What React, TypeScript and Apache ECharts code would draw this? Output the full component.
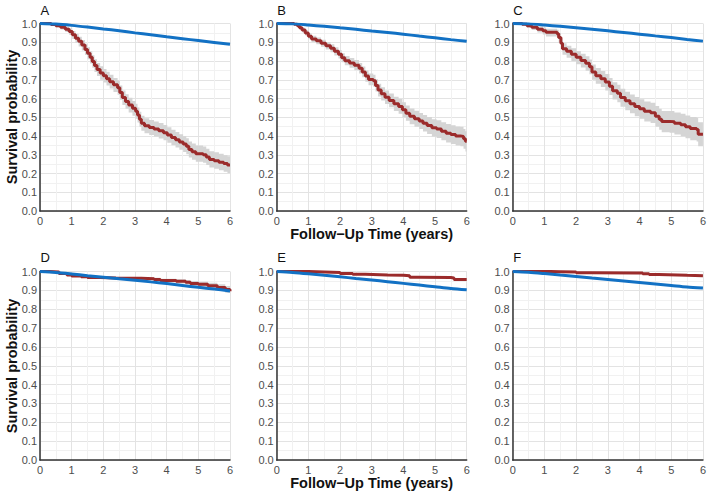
import React, { useEffect, useRef } from "react";
import * as echarts from "echarts";

// ---------- Observed (Kaplan–Meier) curves, red, with 95% CI ----------
const T_A = [0, 0.35, 0.5, 0.65, 0.8, 0.92, 1.02, 1.12, 1.22, 1.32, 1.42, 1.5, 1.58, 1.65, 1.72, 1.8, 1.9, 2.0, 2.1, 2.2, 2.32, 2.45, 2.52, 2.6, 2.7, 2.8, 2.92, 3.02, 3.08, 3.14, 3.2, 3.3, 3.45, 3.6, 3.75, 3.9, 4.02, 4.15, 4.28, 4.4, 4.52, 4.62, 4.7, 4.8, 4.92, 5.15, 5.25, 5.35, 5.5, 5.65, 5.8, 5.92, 6];
const S_A = [1, 0.995, 0.988, 0.98, 0.97, 0.958, 0.94, 0.922, 0.905, 0.885, 0.862, 0.842, 0.82, 0.798, 0.776, 0.755, 0.736, 0.722, 0.706, 0.69, 0.673, 0.658, 0.632, 0.605, 0.584, 0.565, 0.548, 0.532, 0.512, 0.49, 0.468, 0.455, 0.445, 0.437, 0.428, 0.418, 0.405, 0.392, 0.38, 0.368, 0.357, 0.345, 0.328, 0.316, 0.305, 0.3, 0.288, 0.275, 0.268, 0.26, 0.253, 0.246, 0.246];
const LO_A = [1, 0.99, 0.98, 0.968, 0.955, 0.94, 0.918, 0.898, 0.878, 0.856, 0.832, 0.81, 0.787, 0.764, 0.742, 0.72, 0.7, 0.686, 0.67, 0.653, 0.635, 0.62, 0.594, 0.566, 0.545, 0.526, 0.508, 0.492, 0.472, 0.45, 0.428, 0.415, 0.405, 0.397, 0.387, 0.377, 0.364, 0.351, 0.339, 0.327, 0.315, 0.303, 0.286, 0.274, 0.263, 0.257, 0.245, 0.232, 0.225, 0.217, 0.21, 0.203, 0.203];
const HI_A = [1, 1, 0.996, 0.99, 0.984, 0.975, 0.96, 0.945, 0.93, 0.912, 0.892, 0.873, 0.852, 0.831, 0.81, 0.79, 0.772, 0.758, 0.743, 0.727, 0.71, 0.696, 0.67, 0.643, 0.623, 0.604, 0.587, 0.572, 0.552, 0.53, 0.508, 0.495, 0.486, 0.478, 0.469, 0.459, 0.447, 0.434, 0.422, 0.41, 0.399, 0.388, 0.371, 0.36, 0.349, 0.344, 0.332, 0.319, 0.313, 0.305, 0.298, 0.292, 0.292];

const T_B = [0, 0.55, 0.65, 0.72, 0.8, 0.9, 1.0, 1.1, 1.25, 1.4, 1.55, 1.7, 1.82, 1.95, 2.05, 2.15, 2.3, 2.45, 2.6, 2.7, 2.8, 2.9, 3.05, 3.12, 3.2, 3.3, 3.42, 3.55, 3.7, 3.85, 3.97, 4.08, 4.2, 4.35, 4.5, 4.62, 4.75, 4.9, 5.05, 5.2, 5.35, 5.5, 5.65, 5.8, 5.9, 5.96, 6];
const S_B = [1, 0.996, 0.988, 0.978, 0.966, 0.95, 0.932, 0.918, 0.908, 0.895, 0.882, 0.868, 0.852, 0.836, 0.818, 0.802, 0.79, 0.778, 0.762, 0.742, 0.72, 0.702, 0.695, 0.67, 0.645, 0.625, 0.607, 0.59, 0.572, 0.558, 0.54, 0.522, 0.505, 0.492, 0.48, 0.468, 0.456, 0.444, 0.437, 0.425, 0.415, 0.408, 0.4, 0.398, 0.385, 0.372, 0.372];
const LO_B = [1, 0.99, 0.98, 0.968, 0.954, 0.936, 0.916, 0.901, 0.89, 0.876, 0.862, 0.847, 0.83, 0.813, 0.794, 0.777, 0.764, 0.751, 0.734, 0.713, 0.69, 0.671, 0.663, 0.637, 0.611, 0.59, 0.571, 0.553, 0.534, 0.519, 0.5, 0.481, 0.463, 0.45, 0.437, 0.424, 0.411, 0.398, 0.39, 0.377, 0.366, 0.358, 0.349, 0.346, 0.332, 0.318, 0.318];
const HI_B = [1, 1, 0.996, 0.988, 0.978, 0.964, 0.948, 0.935, 0.926, 0.914, 0.902, 0.889, 0.874, 0.859, 0.842, 0.827, 0.816, 0.805, 0.79, 0.771, 0.75, 0.733, 0.727, 0.703, 0.679, 0.66, 0.643, 0.627, 0.61, 0.597, 0.58, 0.563, 0.547, 0.535, 0.523, 0.512, 0.501, 0.49, 0.484, 0.473, 0.464, 0.458, 0.451, 0.45, 0.438, 0.426, 0.426];

const T_C = [0, 0.3, 0.45, 0.6, 0.78, 0.95, 1.05, 1.4, 1.45, 1.52, 1.57, 1.7, 1.85, 2.0, 2.15, 2.3, 2.42, 2.5, 2.62, 2.78, 2.92, 3.05, 3.15, 3.3, 3.4, 3.55, 3.7, 3.85, 4.0, 4.15, 4.35, 4.5, 4.62, 4.7, 4.95, 5.1, 5.3, 5.45, 5.6, 5.8, 5.85, 6];
const S_C = [1, 0.996, 0.988, 0.98, 0.97, 0.962, 0.953, 0.946, 0.925, 0.895, 0.866, 0.852, 0.836, 0.82, 0.803, 0.788, 0.77, 0.742, 0.722, 0.705, 0.688, 0.665, 0.642, 0.628, 0.605, 0.588, 0.572, 0.558, 0.545, 0.532, 0.524, 0.506, 0.49, 0.478, 0.476, 0.468, 0.46, 0.45, 0.44, 0.435, 0.41, 0.41];
const LO_C = [1, 0.99, 0.978, 0.966, 0.952, 0.942, 0.931, 0.922, 0.898, 0.865, 0.834, 0.818, 0.8, 0.783, 0.765, 0.748, 0.729, 0.7, 0.679, 0.661, 0.643, 0.619, 0.595, 0.58, 0.556, 0.538, 0.521, 0.506, 0.492, 0.478, 0.469, 0.45, 0.433, 0.42, 0.417, 0.408, 0.399, 0.388, 0.377, 0.371, 0.345, 0.345];
const HI_C = [1, 1, 0.997, 0.992, 0.985, 0.979, 0.972, 0.967, 0.949, 0.922, 0.895, 0.882, 0.868, 0.854, 0.839, 0.825, 0.808, 0.782, 0.763, 0.747, 0.731, 0.709, 0.687, 0.674, 0.652, 0.636, 0.621, 0.608, 0.596, 0.584, 0.577, 0.56, 0.545, 0.534, 0.533, 0.526, 0.519, 0.51, 0.501, 0.497, 0.473, 0.473];

const T_D = [0, 0.3, 0.6, 0.85, 1.0, 1.3, 1.5, 1.9, 2.4, 3.2, 3.6, 3.8, 4.3, 4.6, 4.75, 5.0, 5.3, 5.6, 5.85, 6];
const S_D = [1, 0.997, 0.99, 0.982, 0.976, 0.972, 0.968, 0.966, 0.964, 0.962, 0.958, 0.952, 0.948, 0.943, 0.937, 0.932, 0.925, 0.915, 0.905, 0.895];
const LO_D = [1, 0.995, 0.987, 0.978, 0.971, 0.966, 0.962, 0.96, 0.957, 0.954, 0.949, 0.942, 0.937, 0.931, 0.924, 0.918, 0.91, 0.898, 0.887, 0.876];
const HI_D = [1, 0.999, 0.993, 0.986, 0.981, 0.978, 0.974, 0.972, 0.971, 0.97, 0.967, 0.962, 0.959, 0.955, 0.95, 0.946, 0.94, 0.932, 0.923, 0.914];

const T_E = [0, 1.0, 1.5, 2.0, 2.4, 2.8, 3.5, 4.0, 4.2, 4.5, 5.5, 5.6, 6];
const S_E = [1, 0.998, 0.995, 0.99, 0.985, 0.982, 0.98, 0.978, 0.97, 0.968, 0.966, 0.958, 0.958];

const T_F = [0, 1.2, 1.5, 2.0, 2.5, 3.9, 4.1, 4.3, 4.6, 5.2, 5.5, 6];
const S_F = [1, 0.999, 0.997, 0.993, 0.992, 0.992, 0.988, 0.984, 0.982, 0.98, 0.978, 0.977];

// ---------- Expected (population) survival, blue ----------
const EXP_T = [0, 0.5, 1, 1.5, 2, 2.5, 3, 3.5, 4, 4.5, 5, 5.5, 6];
const EXP_A = [1, 0.997, 0.99, 0.981, 0.971, 0.961, 0.95, 0.94, 0.929, 0.919, 0.909, 0.899, 0.889];
const EXP_B = [1, 0.998, 0.992, 0.985, 0.977, 0.969, 0.96, 0.952, 0.943, 0.933, 0.924, 0.914, 0.905];
const EXP_C = [1, 0.998, 0.992, 0.985, 0.977, 0.969, 0.961, 0.952, 0.943, 0.934, 0.925, 0.915, 0.906];
const EXP_D = [1, 0.995, 0.987, 0.978, 0.97, 0.962, 0.954, 0.945, 0.936, 0.926, 0.916, 0.907, 0.897];
const EXP_E = [1, 0.995, 0.988, 0.98, 0.972, 0.963, 0.955, 0.946, 0.937, 0.928, 0.919, 0.91, 0.903];
const EXP_F = [1, 0.996, 0.989, 0.981, 0.974, 0.966, 0.958, 0.95, 0.942, 0.934, 0.926, 0.918, 0.912];

const PANEL_LETTERS = ["A", "B", "C", "D", "E", "F"];
const X_TICKS = [0, 1, 2, 3, 4, 5, 6];
const Y_LABEL = "Survival probability";
const X_LABEL = "Follow\u2212Up Time (years)";

const FONT = "'Liberation Sans', Arial, Helvetica, sans-serif";
const BLUE = "#1271c4";
const RED = "#9b2b2b";
const BAND = "#d5d5d5";

const zip = (xs: number[], ys: number[]) => xs.map((x, i) => [x, ys[i]]);

export default function App() {
  const ref = useRef<HTMLDivElement>(null);

  useEffect(() => {
    if (!ref.current) return;
    const chart = echarts.init(ref.current, undefined, { renderer: "svg" });

    const panels = [
      { t: T_A, s: S_A, lo: LO_A, hi: HI_A, exp: EXP_A },
      { t: T_B, s: S_B, lo: LO_B, hi: HI_B, exp: EXP_B },
      { t: T_C, s: S_C, lo: LO_C, hi: HI_C, exp: EXP_C },
      { t: T_D, s: S_D, lo: LO_D, hi: HI_D, exp: EXP_D },
      { t: T_E, s: S_E, lo: null as number[] | null, hi: null as number[] | null, exp: EXP_E },
      { t: T_F, s: S_F, lo: null as number[] | null, hi: null as number[] | null, exp: EXP_F },
    ];

    const lefts = [40, 276.7, 512.7];
    const widths = [190, 190, 190.5];
    const tops = [23.5, 271.5];
    const heights = [187.5, 188.5];

    const grids: any[] = [];
    const xAxes: any[] = [];
    const yAxes: any[] = [];
    const series: any[] = [];
    const graphics: any[] = [];

    panels.forEach((p, i) => {
      const col = i % 3;
      const row = Math.floor(i / 3);
      grids.push({
        left: lefts[col],
        top: tops[row],
        width: widths[col],
        height: heights[row],
        containLabel: false,
      });
      xAxes.push({
        type: "value",
        gridIndex: i,
        min: X_TICKS[0],
        max: X_TICKS[X_TICKS.length - 1],
        interval: 1,
        axisLine: { show: true, onZero: false, lineStyle: { color: "#333333", width: 1.5 } },
        axisTick: { show: false },
        axisLabel: { color: "#4d4d4d", fontSize: 11, margin: 4, fontFamily: FONT, showMinLabel: true, showMaxLabel: true },
        splitLine: { show: true, lineStyle: { color: "#e3e3e3", width: 1 } },
        minorTick: { show: false, splitNumber: 2 },
        minorSplitLine: { show: true, lineStyle: { color: "#f1f1f1", width: 1 } },
      });
      yAxes.push({
        type: "value",
        gridIndex: i,
        min: 0,
        max: 1,
        interval: 0.1,
        axisLine: { show: true, onZero: false, lineStyle: { color: "#333333", width: 1.5 } },
        axisTick: { show: false },
        axisLabel: {
          color: "#4d4d4d",
          fontSize: 11,
          margin: 3,
          fontFamily: FONT,
          formatter: (v: number) => v.toFixed(1),
        },
        splitLine: { show: true, lineStyle: { color: "#e3e3e3", width: 1 } },
        minorTick: { show: false, splitNumber: 2 },
        minorSplitLine: { show: true, lineStyle: { color: "#f1f1f1", width: 1 } },
      });

      if (p.lo && p.hi) {
        const t = p.t;
        const lo = p.lo;
        const hi = p.hi;
        series.push({
          type: "custom",
          xAxisIndex: i,
          yAxisIndex: i,
          coordinateSystem: "cartesian2d",
          data: zip(t, hi),
          silent: true,
          clip: true,
          z: 1,
          renderItem: (params: any, api: any) => {
            if (params.dataIndex !== 0) return null;
            const pts: number[][] = [];
            for (let k = 0; k < t.length; k++) {
              pts.push(api.coord([t[k], hi[k]]));
              if (k + 1 < t.length) pts.push(api.coord([t[k + 1], hi[k]]));
            }
            for (let k = t.length - 1; k >= 0; k--) {
              if (k + 1 < t.length) pts.push(api.coord([t[k + 1], lo[k]]));
              pts.push(api.coord([t[k], lo[k]]));
            }
            return {
              type: "polygon",
              shape: { points: pts },
              style: { fill: BAND, stroke: "none" },
            };
          },
        });
      }
      series.push({
        type: "line",
        xAxisIndex: i,
        yAxisIndex: i,
        data: zip(p.t, p.s),
        step: "end",
        symbol: "none",
        silent: true,
        lineStyle: { color: RED, width: 3 },
        z: 2,
      });
      series.push({
        type: "line",
        xAxisIndex: i,
        yAxisIndex: i,
        data: zip(EXP_T, p.exp),
        smooth: 0.3,
        symbol: "none",
        silent: true,
        lineStyle: { color: BLUE, width: 3 },
        z: 3,
      });

      graphics.push({
        type: "text",
        left: lefts[col] + 0.5,
        top: row === 0 ? 4 : 250.5,
        style: { text: PANEL_LETTERS[i], fontSize: 13, fill: "#111", fontFamily: FONT },
      });
    });

    [117, 366].forEach((cy) => {
      graphics.push({
        type: "text",
        x: 12,
        y: cy,
        rotation: Math.PI / 2,
        style: {
          text: Y_LABEL,
          fontSize: 14.5,
          fontWeight: "bold",
          fill: "#111",
          fontFamily: FONT,
          align: "center",
          verticalAlign: "middle",
        },
      });
    });
    [233.5, 483].forEach((cy) => {
      graphics.push({
        type: "text",
        x: 371.7,
        y: cy,
        style: {
          text: X_LABEL,
          fontSize: 14.5,
          fontWeight: "bold",
          fill: "#111",
          fontFamily: FONT,
          align: "center",
          verticalAlign: "middle",
        },
      });
    });

    chart.setOption({
      animation: false,
      backgroundColor: "#ffffff",
      grid: grids,
      xAxis: xAxes,
      yAxis: yAxes,
      series,
      graphic: graphics,
    });

    return () => chart.dispose();
  }, []);

  return (
    <div
      ref={ref}
      style={{ position: "fixed", left: 0, top: 0, width: 709, height: 496, background: "#fff" }}
    />
  );
}
